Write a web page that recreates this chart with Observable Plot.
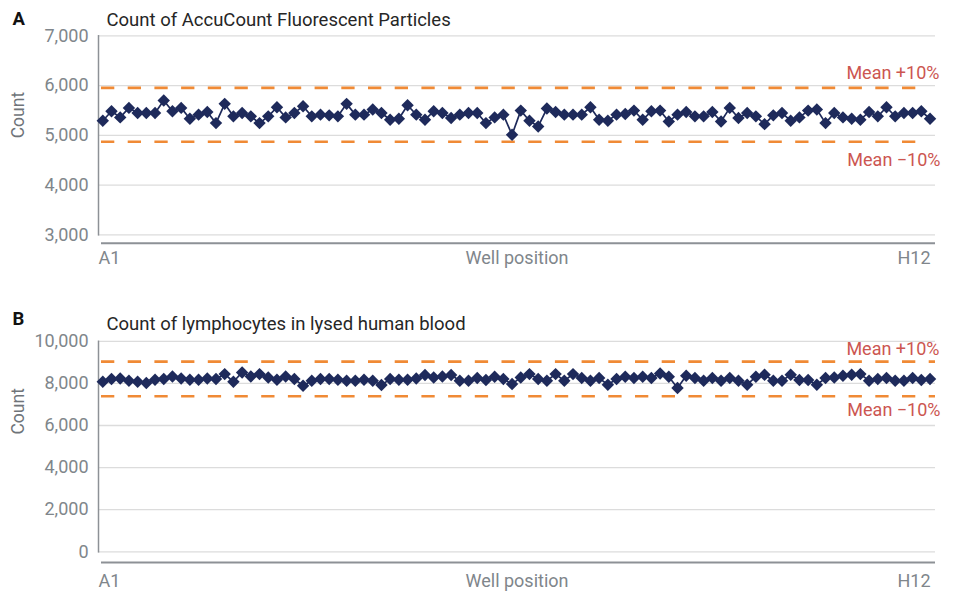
<!DOCTYPE html>
<html>
<head>
<meta charset="utf-8">
<script src="https://cdn.jsdelivr.net/npm/d3@7"></script>
<script src="https://cdn.jsdelivr.net/npm/@observablehq/plot@0.6"></script>
<style>
  body { margin: 0; background: #fff; }
  #wrap { position: relative; width: 954px; height: 593px; overflow: hidden; font-family: Roboto, sans-serif; }
  .panel { position: absolute; left: 0; }
</style>
</head>
<body>
<div id="wrap"></div>
<script>
// ---- categories ----
const rowLetters = ["A", "B", "C", "D", "E", "F", "G", "H"];
const colNumbers = [1, 2, 3, 4, 5, 6, 7, 8, 9, 10, 11, 12];
const wells = rowLetters.flatMap(r => colNumbers.map(c => r + c));

// ---- panel texts ----
const panelLetters = ["A", "B"];
const panelTitles = ["Count of AccuCount Fluorescent Particles", "Count of lymphocytes in lysed human blood"];
const bandLabels = ["Mean +10%", "Mean \u221210%"];
const xAxisTitle = "Well position";
const yAxisTitle = "Count";

// ---- tick values ----
const yTicksA = [3000, 4000, 5000, 6000, 7000];
const yTicksB = [0, 2000, 4000, 6000, 8000, 10000];

// ---- series values (one per well, A1 .. H12) ----
const countsA = [
  5292, 5483, 5360, 5551, 5449, 5449, 5449, 5700, 5483, 5551, 5333, 5415,
  5469, 5245, 5632, 5381, 5449, 5381, 5245, 5381, 5564, 5360, 5449, 5585,
  5381, 5415, 5401, 5381, 5632, 5415, 5415, 5517, 5449, 5313, 5333, 5605,
  5415, 5313, 5483, 5449, 5347, 5415, 5449, 5449, 5245, 5360, 5415, 5010,
  5496, 5292, 5177, 5537, 5469, 5415, 5415, 5415, 5564, 5313, 5292, 5415,
  5428, 5496, 5313, 5483, 5496, 5279, 5415, 5469, 5381, 5381, 5469, 5279,
  5551, 5347, 5449, 5381, 5224, 5401, 5449, 5292, 5360, 5496, 5517, 5245,
  5449, 5360, 5333, 5313, 5469, 5381, 5564, 5381, 5449, 5449, 5483, 5333
];
const countsB = [
  8079, 8205, 8237, 8126, 8079, 8016, 8174, 8205, 8332, 8237, 8174, 8174,
  8237, 8205, 8442, 8079, 8521, 8332, 8442, 8284, 8174, 8332, 8205, 7889,
  8126, 8205, 8205, 8174, 8126, 8126, 8174, 8126, 7921, 8205, 8174, 8174,
  8237, 8395, 8284, 8332, 8395, 8126, 8126, 8253, 8158, 8316, 8205, 7968,
  8284, 8442, 8205, 8126, 8442, 8126, 8442, 8253, 8126, 8253, 7937, 8205,
  8316, 8253, 8316, 8253, 8474, 8316, 7779, 8363, 8253, 8126, 8253, 8126,
  8253, 8126, 7937, 8316, 8411, 8126, 8126, 8411, 8158, 8158, 7937, 8253,
  8284, 8363, 8411, 8442, 8126, 8205, 8253, 8126, 8126, 8253, 8158, 8205
];

const NAVY = "#1e2a5b";
const ORANGE = "#f08a35";
const RED = "#cc5651";
const GRAY = "#80868b";

function panel(cfg) {
  const data = wells.map((w, i) => ({well: w, count: cfg.values[i]}));
  const mean = d3.mean(cfg.values);
  const upper = mean * 1.1, lower = mean * 0.9;
  const yMin = cfg.ticks[0], yMax = cfg.ticks[cfg.ticks.length - 1];
  return Plot.plot({
    width: 954,
    height: cfg.height,
    marginLeft: 98,
    marginRight: 19,
    marginTop: cfg.marginTop,
    marginBottom: cfg.marginBottom,
    style: {fontFamily: "Roboto, sans-serif", fontSize: "18px", color: GRAY, background: "white", overflow: "visible"},
    x: {type: "point", domain: wells, padding: 0.56, align: 0.44, axis: null},
    y: {domain: [yMin, yMax], axis: null},
    marks: [
      Plot.ruleY(cfg.ticks, {stroke: "#dcdcdc", strokeWidth: 1.3}),
      Plot.axisY(cfg.ticks, {tickSize: 0, tickPadding: 10, tickFormat: d3.format(","), label: null, fill: GRAY, fontSize: 18}),
      Plot.frame({anchor: "left", stroke: "#8d9196", strokeWidth: 1.5}),
      Plot.ruleY([yMin], {dy: cfg.axisDy, stroke: "#8d9196", strokeWidth: 2, insetLeft: 3}),
      Plot.ruleY([upper, lower], {stroke: ORANGE, strokeWidth: 2.6, strokeDasharray: "13.3,13.4", insetLeft: 3, insetRight: cfg.dashInsetRight}),
      Plot.line(data, {x: "well", y: "count", stroke: NAVY, strokeWidth: 1.7}),
      Plot.dot(data, {x: "well", y: "count", symbol: "diamond2", r: 5.6, fill: NAVY}),
      Plot.text([bandLabels[0]], {frameAnchor: "right", y: [upper], textAnchor: "end", lineAnchor: "bottom", dx: 4, dy: cfg.plusDy, fill: RED, fontSize: 18}),
      Plot.text([bandLabels[1]], {frameAnchor: "right", y: [lower], textAnchor: "end", lineAnchor: "bottom", dx: 5, dy: cfg.minusDy, fill: RED, fontSize: 18}),
      Plot.text([wells[0]], {frameAnchor: "bottom-left", textAnchor: "start", lineAnchor: "bottom", dy: cfg.labelDy, fill: GRAY, fontSize: 18}),
      Plot.text([xAxisTitle], {frameAnchor: "bottom", lineAnchor: "bottom", dy: cfg.labelDy, fill: GRAY, fontSize: 18}),
      Plot.text([wells[wells.length - 1]], {frameAnchor: "bottom-right", textAnchor: "end", lineAnchor: "bottom", dx: -5, dy: cfg.labelDy, fill: GRAY, fontSize: 18}),
      Plot.text([yAxisTitle], {frameAnchor: "left", rotate: -90, dx: -80, dy: cfg.countDy, fill: "#6f7479", fontSize: 17.5}),
      Plot.text([cfg.letter], {frameAnchor: "top-left", textAnchor: "start", lineAnchor: "bottom", dx: -86, dy: cfg.letterDy, fill: "#111", fontSize: 18.5, fontWeight: "bold"}),
      Plot.text([cfg.title], {frameAnchor: "top-left", textAnchor: "start", lineAnchor: "bottom", dx: 8, dy: cfg.titleDy, fill: "#262626", fontSize: 18.5})
    ]
  });
}

const wrap = document.getElementById("wrap");

const svgA = panel({
  values: countsA, ticks: yTicksA, letter: panelLetters[0], title: panelTitles[0],
  height: 280, marginTop: 35.3, marginBottom: 45.7,
  axisDy: 8.5, dashInsetRight: 11, plusDy: -9, minusDy: 24, labelDy: 29, countDy: 3,
  letterDy: -11, titleDy: -10
});
svgA.classList.add("panel");
svgA.style.top = "0px";
wrap.appendChild(svgA);

const svgB = panel({
  values: countsB, ticks: yTicksB, letter: panelLetters[1], title: panelTitles[1],
  height: 303, marginTop: 50.8, marginBottom: 41.7,
  axisDy: 10.7, dashInsetRight: 0, plusDy: -7, minusDy: 20, labelDy: 35.5, countDy: -12,
  letterDy: -16.5, titleDy: -11.5
});
svgB.classList.add("panel");
svgB.style.top = "290px";
wrap.appendChild(svgB);
</script>
</body>
</html>
